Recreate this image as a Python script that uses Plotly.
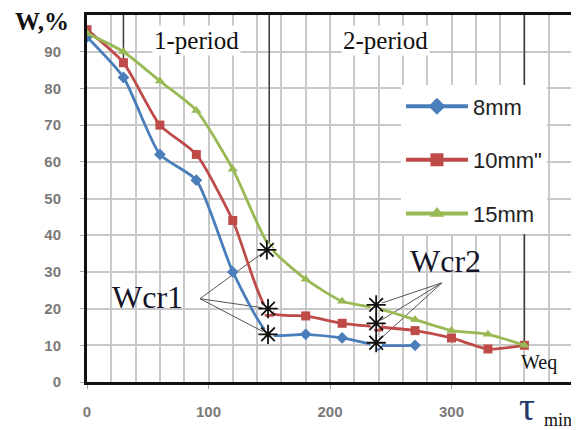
import plotly.graph_objects as go

# ---- data ----
time_min = [0, 30, 60, 90, 120, 150, 180, 210, 240, 270, 300, 330, 360]
w_8mm = [94, 83, 62, 55, 30, 13, 13, 12, 10, 10]
w_10mm = [96, 87, 70, 62, 44, 19, 18, 16, 15, 14, 12, 9, 10]
w_15mm = [95, 90, 82, 74, 58, 37, 28, 22, 20, 17, 14, 13, 10]
series_names = ["8mm", "10mm\"", "15mm"]

wcr1_x = [148, 149, 149]
wcr1_y = [36, 20, 13]
wcr1_apex = (93, 22.7)
wcr2_x = [238, 238, 238]
wcr2_y = [21, 16, 10.7]
wcr2_apex = (292, 27)

period_lines_x = [30, 150, 360]
period_lines_ylow = [87, 37, 10]

x_ticks = [0, 100, 200, 300]
x_ticklabels = ["0", "100", "200", "300"]
y_ticks = [0, 10, 20, 30, 40, 50, 60, 70, 80, 90]
y_ticklabels = [str(v) for v in y_ticks]

colors = ["#4A7EBB", "#BE4B48", "#98B954"]
symbols = ["diamond", "square", "triangle-up"]

fig = go.Figure()

# vertical period divider lines
for xv, yl in zip(period_lines_x, period_lines_ylow):
    fig.add_trace(go.Scatter(x=[xv, xv], y=[yl, 100], mode="lines",
                             line=dict(color="#3a3a3a", width=1.5),
                             showlegend=False, hoverinfo="skip"))

# pointer lines
for sx, sy in zip(wcr1_x, wcr1_y):
    fig.add_trace(go.Scatter(x=[wcr1_apex[0], sx], y=[wcr1_apex[1], sy], mode="lines",
                             line=dict(color="#555555", width=1),
                             showlegend=False, hoverinfo="skip"))
for sx, sy in zip(wcr2_x, wcr2_y):
    fig.add_trace(go.Scatter(x=[wcr2_apex[0], sx], y=[wcr2_apex[1], sy], mode="lines",
                             line=dict(color="#555555", width=1),
                             showlegend=False, hoverinfo="skip"))

all_series = [w_8mm, w_10mm, w_15mm]
marker_sizes = [9, 9, 9]
for i, ys in enumerate(all_series):
    fig.add_trace(go.Scatter(x=time_min[:len(ys)], y=ys, mode="lines+markers",
                             line=dict(color=colors[i], width=2.8, shape="spline", smoothing=0.6),
                             marker=dict(symbol=symbols[i], size=marker_sizes[i], color=colors[i]),
                             showlegend=False))

# legend entries
for i, name in enumerate(series_names):
    fig.add_trace(go.Scatter(x=[None], y=[None], mode="lines+markers", name=name,
                             legendgroup=name,
                             line=dict(color=colors[i], width=4),
                             marker=dict(symbol=symbols[i], size=13, color=colors[i])))

# stars with white background
for xs, ys in [(wcr1_x, wcr1_y), (wcr2_x, wcr2_y)]:
    fig.add_trace(go.Scatter(x=xs, y=ys, mode="markers",
                             marker=dict(symbol="circle", size=12, color="white"),
                             showlegend=False, hoverinfo="skip"))
    fig.add_trace(go.Scatter(x=xs, y=ys, mode="markers",
                             marker=dict(symbol="asterisk-open", size=16, color="#111111",
                                         line=dict(color="#111111", width=1.8)),
                             showlegend=False, hoverinfo="skip"))

serif = "Liberation Serif"
annos = [
    dict(x=90, y=93, xref="x", yref="y", text="1-period", font=dict(family=serif, size=25, color="#111")),
    dict(x=246, y=93, xref="x", yref="y", text="2-period", font=dict(family=serif, size=25, color="#111")),
    dict(x=50, y=23.2, xref="x", yref="y", text="Wcr1", font=dict(family=serif, size=32, color="#141428")),
    dict(x=295, y=33, xref="x", yref="y", text="Wcr2", font=dict(family=serif, size=32, color="#141428")),
    dict(x=372, y=5.4, xref="x", yref="y", text="Weq", font=dict(family=serif, size=20, color="#111")),
    dict(x=-0.093, y=0.981, xref="paper", yref="paper", text="<b>W,%</b>", font=dict(family=serif, size=25, color="#111")),
    dict(x=362, y=-0.068, xref="x", yref="paper", text="τ", font=dict(family=serif, size=40, color="#1F3A6A")),
    dict(x=388, y=-0.103, xref="x", yref="paper", text="min", font=dict(family=serif, size=18, color="#111")),
]
for a in annos:
    a.update(showarrow=False, xanchor="center", yanchor="middle")
    if a["text"] in ("1-period", "2-period"):
        a.update(bgcolor="white")
    fig.add_annotation(**a)

grid_color = "#c8c8c8"
tick_font = dict(family="Liberation Sans", size=15, color="#7a7a7a", weight="bold")
fig.update_layout(
    width=579, height=430,
    margin=dict(l=79, r=14, t=7, b=56),
    paper_bgcolor="white", plot_bgcolor="white",
    legend=dict(x=0.646, y=0.808, xanchor="left", yanchor="top", bgcolor="white",
                font=dict(family="Liberation Sans", size=22, color="#222"),
                tracegroupgap=22, itemwidth=62),
    xaxis=dict(range=[0, 400], tickmode="array", tickvals=x_ticks, ticktext=x_ticklabels,
               showgrid=True, gridcolor=grid_color, gridwidth=1.5,
               minor=dict(tickmode="linear", tick0=0, dtick=20, showgrid=True,
                          gridcolor=grid_color, gridwidth=1.5),
               showline=True, mirror=True, linecolor="#111", linewidth=3,
               ticks="outside", ticklen=4, tickcolor="#aaaaaa",
               tickfont=tick_font, zeroline=False, ticklabelstandoff=10,
               automargin=False),
    yaxis=dict(range=[0, 100], tickmode="array", tickvals=y_ticks, ticktext=y_ticklabels,
               showgrid=True, gridcolor=grid_color, gridwidth=1.5,
               showline=True, mirror=True, linecolor="#111", linewidth=3,
               ticks="outside", ticklen=4, tickcolor="#aaaaaa",
               tickfont=tick_font, zeroline=False, ticklabelstandoff=16,
               automargin=False),
)

fig.write_html("out.html")
